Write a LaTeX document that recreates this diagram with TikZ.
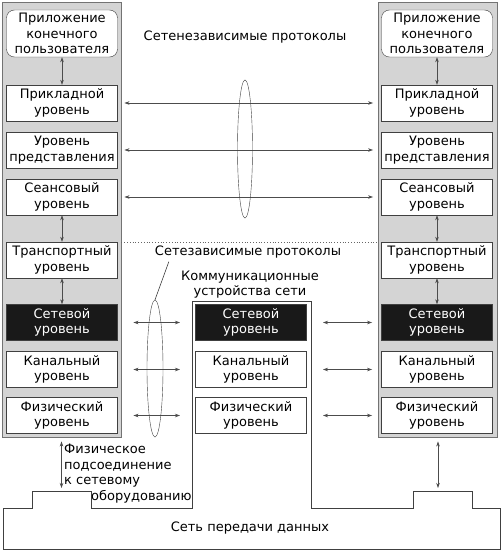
\documentclass[tikz,border=0pt]{standalone}
\usepackage{fontspec}
\setmainfont{DejaVu Sans}
\usepackage{tikz}
\usetikzlibrary{shapes,arrows.meta,positioning,calc}

\begin{document}
\begin{tikzpicture}[x=1pt, y=-1pt,
    font=\fontsize{13}{15.5}\selectfont,
    column/.style={draw=black!55, fill=black!17, line width=0.9pt, minimum width=119pt, minimum height=435pt, inner sep=0pt},
    layer/.style={draw=black!75, fill=white, minimum width=111pt, minimum height=36pt, align=center, inner sep=1pt},
    netlayer/.style={layer, fill=black!90, text=white},
    app/.style={layer, rounded corners=8pt, minimum height=47pt},
    link/.style={{Stealth[length=5pt,width=3.5pt]}-{Stealth[length=5pt,width=3.5pt]}, black!70, line width=0.6pt},
    lens/.style={ellipse, draw=black!75, inner sep=0pt}
]
    \useasboundingbox (0,0) rectangle (502,551);

    % End systems
    \node[column] (lcol) at (61.5,219.5) {};
    \node[column] (rcol) at (438,219.5) {};
    \node[app] (la) at (62,33.5) {Приложение\\конечного\\пользователя};
    \node[app] (ra) at (437,33.5) {Приложение\\конечного\\пользователя};
    \foreach \i/\y/\s/\t in {1/103/layer/{Прикладной\\уровень},
                             2/150/layer/{Уровень\\представления},
                             3/197/layer/{Сеансовый\\уровень},
                             4/260/layer/{Транспортный\\уровень},
                             5/322.5/netlayer/{Сетевой\\уровень},
                             6/369.5/layer/{Канальный\\уровень},
                             7/415.5/layer/{Физический\\уровень}} {
        \node[\s] (l\i) at (62,\y) {\t};
        \node[\s] (r\i) at (437,\y) {\t};
    }

    % Network device
    \foreach \i/\y/\s/\t in {5/322.5/netlayer/{Сетевой\\уровень},
                             6/369.5/layer/{Канальный\\уровень},
                             7/415.5/layer/{Физический\\уровень}} {
        \node[\s] (m\i) at (251,\y) {\t};
    }
    \node[align=center] (dev) at (250,284.5) {Коммуникационные\\устройства сети};
    \draw[black!75, line width=0.8pt] (3,549) -- (3,508) -- (32,508) -- (32,491) -- (91,491) -- (91,508)
        -- (192,508) -- (192,301) -- (311,301) -- (311,508) -- (413,508) -- (413,491) -- (472,491)
        -- (472,508) -- (500,508) -- (500,549) -- cycle;
    \coordinate (lbump) at (61.5,491);
    \coordinate (rbump) at (442.5,491);
    \node (net) at (250,528) {Сеть передачи данных};

    % Vertical links
    \foreach \c in {l,r} {
        \draw[link] (\c a) -- (\c 1);
        \draw[link] (\c 3) -- (\c 4);
        \draw[link] (\c 4) -- (\c 5);
    }
    \draw[link, shorten <=4pt, shorten >=3pt] (lcol.south) -- (lcol.south |- lbump);
    \draw[link, shorten <=4pt, shorten >=3pt] (rcol.south) -- (rcol.south |- rbump);
    \node[align=left, anchor=north west, inner sep=0pt] (phys) at (64,444)
        {Физическое\\подсоединение\\к сетевому\\\hspace*{27pt}оборудованию};

    % Independent protocols
    \foreach \i in {1,2,3} {
        \draw[link, shorten <=3pt, shorten >=5pt] (lcol.east |- l\i) -- (rcol.west |- r\i);
    }
    \node[lens, minimum width=15pt, minimum height=138pt] (indlens) at (245,149) {};
    \node (indtxt) at (245,37) {Сетенезависимые протоколы};

    % Dependent protocols
    \draw[black!60, dotted, line width=0.8pt] (lcol.east |- 0,242) -- (rcol.west |- 0,242);
    \foreach \i in {5,6,7} {
        \draw[link, shorten <=12pt, shorten >=12pt] (lcol.east |- l\i) -- (192,0 |- m\i);
        \draw[link, shorten <=12pt, shorten >=6pt] (311,0 |- m\i) -- (rcol.west |- r\i);
    }
    \node[lens, minimum width=16pt, minimum height=137pt] (deplens) at (155,368.5) {};
    \node (deptxt) at (248,252) {Сетезависимые протоколы};
    \draw[black!75, line width=0.6pt] ($(deptxt.south west)!0.09!(deptxt.south east)$) -- (deplens.north);
\end{tikzpicture}
\end{document}
